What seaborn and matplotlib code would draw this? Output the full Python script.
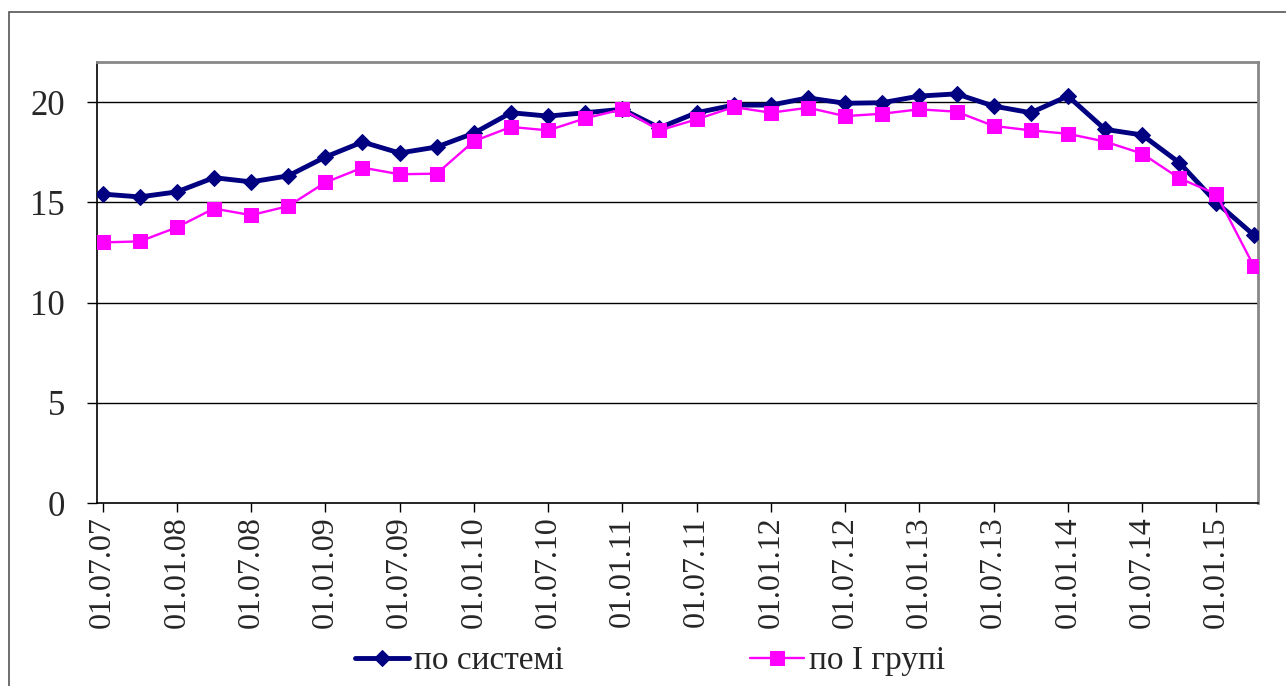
import matplotlib
matplotlib.use("Agg")
import matplotlib.pyplot as plt
import seaborn as sns
import pandas as pd
from matplotlib.patches import Rectangle

dates = ["01.07.07", "01.10.07",
         "01.01.08", "01.04.08", "01.07.08", "01.10.08",
         "01.01.09", "01.04.09", "01.07.09", "01.10.09",
         "01.01.10", "01.04.10", "01.07.10", "01.10.10",
         "01.01.11", "01.04.11", "01.07.11", "01.10.11",
         "01.01.12", "01.04.12", "01.07.12", "01.10.12",
         "01.01.13", "01.04.13", "01.07.13", "01.10.13",
         "01.01.14", "01.04.14", "01.07.14", "01.10.14",
         "01.01.15", "01.04.15"]

po_systemi = [15.41, 15.27, 15.52, 16.23, 16.02, 16.32, 17.26, 18.01, 17.46, 17.76,
              18.45, 19.47, 19.30, 19.47, 19.64, 18.72, 19.47, 19.85, 19.85, 20.21,
              19.94, 19.97, 20.30, 20.41, 19.80, 19.47, 20.30, 18.64, 18.36, 16.98,
              14.99, 13.38]

po_I_hrupi = [13.00, 13.05, 13.75, 14.69, 14.36, 14.81, 15.99, 16.73, 16.40, 16.43,
              18.05, 18.76, 18.59, 19.19, 19.64, 18.59, 19.14, 19.75, 19.47, 19.72,
              19.30, 19.42, 19.64, 19.52, 18.81, 18.59, 18.42, 18.03, 17.43, 16.20,
              15.41, 11.84]

series_names = ["по системі", "по I групі"]
y_ticks = [0, 5, 10, 15, 20]

sns.set_style("white")
plt.rcParams["font.family"] = ["Liberation Serif", "DejaVu Serif"]

df = pd.DataFrame({"idx": list(range(len(dates))),
                   "date": dates,
                   series_names[0]: po_systemi,
                   series_names[1]: po_I_hrupi})

W, H = 1286, 686
fig = plt.figure(figsize=(W / 100, H / 100), dpi=100)
fig.patch.set_facecolor("white")

# outer chart-area border
fig.patches.append(Rectangle((8.5 / W, -0.1), 1.2, (H - 12.5) / H + 0.1,
                             transform=fig.transFigure, fill=False,
                             edgecolor="#555555", linewidth=1.2, zorder=0))

ax = fig.add_axes([97 / W, (H - 503) / H, (1258 - 97) / W, (503 - 62) / H])

sns.lineplot(data=df, x="idx", y=series_names[0], ax=ax, color="#000080",
             linewidth=3.5, marker="D", markersize=8.5, markeredgecolor="#000080",
             label=series_names[0], zorder=3)
sns.lineplot(data=df, x="idx", y=series_names[1], ax=ax, color="#FF00FF",
             linewidth=1.7, marker="s", markersize=10.5, markeredgecolor="#FF00FF",
             label=series_names[1], zorder=4)

ax.set_xlim(-0.15, 31.12)
ax.set_ylim(0, 22)
ax.set_yticks(y_ticks)
ax.set_yticklabels([str(v) for v in y_ticks], fontsize=25)
ax.set_xticks(list(range(0, len(dates), 2)))
ax.set_xticklabels(dates[::2], rotation=90, fontsize=23)
ax.set_xlabel("")
ax.set_ylabel("")

for v in y_ticks[1:]:
    ax.axhline(v, color="black", linewidth=1.0, zorder=1)

ax.tick_params(axis="y", direction="out", length=7, width=1, color="black", pad=16, left=True)
ax.tick_params(axis="x", direction="out", length=6.5, width=1, color="black", pad=3, bottom=True)

for s in ["left", "bottom"]:
    ax.spines[s].set_color("black")
    ax.spines[s].set_linewidth(1.2)
for s in ["top", "right"]:
    ax.spines[s].set_color("#888888")
    ax.spines[s].set_linewidth(2.0)

ax.get_legend().remove()
handles, labels = ax.get_legend_handles_labels()
fig.legend(handles, labels, loc="center", bbox_to_anchor=(650 / W, 25 / H),
           ncol=2, frameon=False, fontsize=24, handlelength=1.6,
           handletextpad=0.15, columnspacing=5.6, borderpad=0)

fig.savefig("out.png", dpi=100, facecolor="white")
